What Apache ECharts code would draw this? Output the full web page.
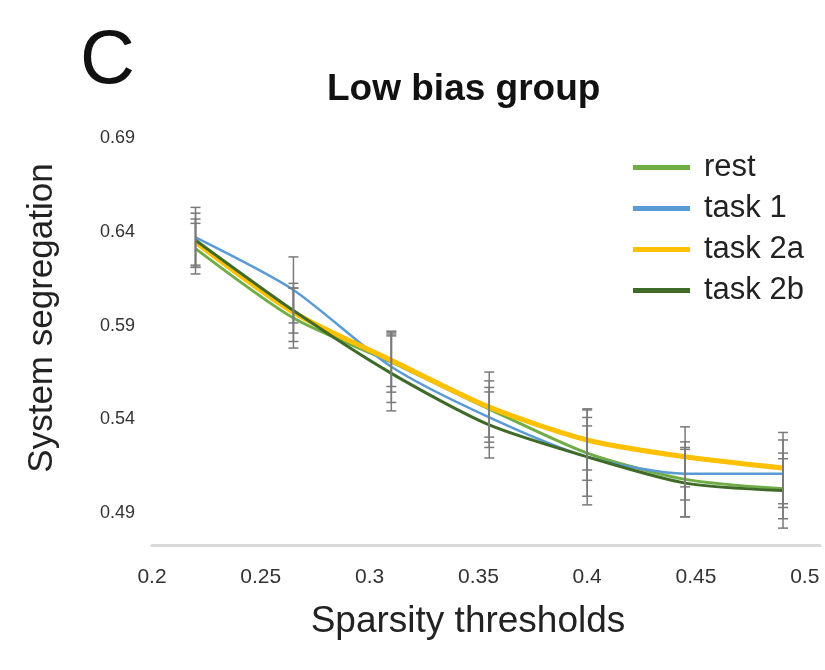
<!DOCTYPE html>
<html>
<head>
<meta charset="utf-8">
<script src="https://cdn.jsdelivr.net/npm/echarts@6/dist/echarts.min.js"></script>
<style>
  html, body { margin: 0; padding: 0; background: #fff; }
  #main { width: 825px; height: 670px; }
</style>
</head>
<body>
<div id="main"></div>
<script>
// sparsity thresholds (x) and system segregation per condition
var thresholds = [0.22, 0.265, 0.31, 0.355, 0.40, 0.445, 0.49];
var restVals   = [0.631, 0.594, 0.5705, 0.5455, 0.522, 0.508, 0.503];
var task1Vals  = [0.637, 0.609, 0.568, 0.541, 0.520, 0.511, 0.511];
var task2aVals = [0.6345, 0.597, 0.5715, 0.5465, 0.529, 0.520, 0.514];
var task2bVals = [0.6355, 0.598, 0.5645, 0.537, 0.520, 0.506, 0.502];

// error bar half widths
var restErr   = [0.0135, 0.016, 0.016, 0.015, 0.0145, 0.020, 0.016];
var task1Err  = [0.016, 0.0176, 0.019, 0.016, 0.021, 0.014, 0.018];
var task2aErr = [0.0123, 0.0155, 0.014, 0.0187, 0.016, 0.016, 0.019];
var task2bErr = [0.0144, 0.012, 0.020, 0.0176, 0.0256, 0.018, 0.020];

var yTicks = [0.49, 0.54, 0.59, 0.64, 0.69];
var xTicks = [0.2, 0.25, 0.3, 0.35, 0.4, 0.45, 0.5];

var names  = ['rest', 'task 1', 'task 2a', 'task 2b'];
var colors = ['#70AD47', '#5B9BD5', '#FFC000', '#3F6A28'];
var widths = [3, 2.5, 5, 3];
var vals   = [restVals, task1Vals, task2aVals, task2bVals];
var errs   = [restErr, task1Err, task2aErr, task2bErr];

var FONT = 'Liberation Sans, Arial, sans-serif';

function pairs(v) {
	return thresholds.map(function(x, i) { return [x, v[i]]; });
}

// 误差线
function errRender(params, api) {
	var x = api.value(0);
	var lo = api.coord([x, api.value(1)]);
	var hi = api.coord([x, api.value(2)]);
	var w = 5;
	var st = { stroke: '#7a7a7a', lineWidth: 1.5 };
	return {
		type: 'group',
		children: [
			{ type: 'line', shape: { x1: lo[0], y1: lo[1], x2: hi[0], y2: hi[1] }, style: st },
			{ type: 'line', shape: { x1: lo[0] - w, y1: lo[1], x2: lo[0] + w, y2: lo[1] }, style: st },
			{ type: 'line', shape: { x1: hi[0] - w, y1: hi[1], x2: hi[0] + w, y2: hi[1] }, style: st }
		]
	};
}

var series = [];
names.forEach(function(n, k) {
	series.push({
		name: n,
		type: 'line',
		data: pairs(vals[k]),
		smooth: 0.25,
		showSymbol: false,
		color: colors[k],
		lineStyle: { width: widths[k], color: colors[k] },
		z: 2 + k
	});
});
names.forEach(function(n, k) {
	series.push({
		name: n + ' err',
		type: 'custom',
		renderItem: errRender,
		encode: { x: 0, y: [1, 2] },
		data: thresholds.map(function(x, i) {
			return [x, vals[k][i] - errs[k][i], vals[k][i] + errs[k][i]];
		}),
		z: 10
	});
});

var myChart = echarts.init(document.getElementById('main'));
var option = {
	backgroundColor: '#fff',
	animation: false,
	title: {
		text: 'Low bias group',
		left: 327,
		top: 71,
		padding: 0,
		textStyle: { fontFamily: FONT, fontSize: 37, fontWeight: 'bold', color: '#111' }
	},
	legend: {
		data: names,
		orient: 'vertical',
		left: 628,
		top: 147,
		icon: 'rect',
		itemWidth: 57,
		itemHeight: 5,
		itemGap: 10,
		textStyle: { fontFamily: FONT, fontSize: 31, color: '#222', padding: [0, 0, 0, 9] }
	},
	grid: { left: 152, right: 5, top: 138, bottom: 125, containLabel: false },
	xAxis: {
		type: 'value',
		min: 0.2,
		max: 0.507,
		name: 'Sparsity thresholds',
		nameLocation: 'middle',
		nameGap: 58,
		nameTextStyle: { fontFamily: FONT, fontSize: 37, color: '#222', padding: [0, 36, 0, 0] },
		axisLine: { show: true, lineStyle: { color: '#d9d9d9', width: 3 } },
		axisTick: { show: false },
		splitLine: { show: false },
		axisLabel: {
			customValues: xTicks,
			margin: 22,
			fontFamily: FONT,
			fontSize: 21,
			color: '#333',
			formatter: function(v) { return String(+v.toFixed(2)); }
		}
	},
	yAxis: {
		type: 'value',
		min: 0.473,
		max: 0.69,
		axisLine: { show: false },
		axisTick: { show: false },
		splitLine: { show: false },
		axisLabel: {
			customValues: yTicks,
			margin: 17,
			fontFamily: FONT,
			fontSize: 18,
			color: '#333',
			formatter: function(v) { return v.toFixed(2); }
		}
	},
	graphic: [
		{ type: 'text', left: 80, top: 24, style: { text: 'C', fontFamily: FONT, fontSize: 76, fill: '#111' } },
		{ type: 'text', x: 42, y: 318, rotation: Math.PI / 2,
		  style: { text: 'System segregation', fontFamily: FONT, fontSize: 35, fill: '#222', align: 'center', verticalAlign: 'middle' } }
	],
	series: series
};
myChart.setOption(option);
</script>
</body>
</html>
